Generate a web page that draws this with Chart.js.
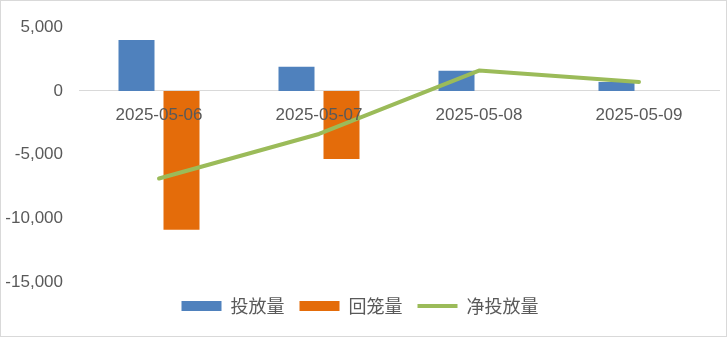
<!DOCTYPE html>
<html>
<head>
<meta charset="utf-8">
<script src="https://cdn.jsdelivr.net/npm/chart.js@4/dist/chart.umd.min.js"></script>
<style>
  html, body { margin: 0; padding: 0; background: #fff; }
  #wrap { width: 727px; height: 337px; box-sizing: border-box; border: 1px solid #d9d9d9; }
</style>
</head>
<body>
<div id="wrap"><canvas id="c" width="725" height="335"></canvas></div>
<script>
const dates = ["2025-05-06", "2025-05-07", "2025-05-08", "2025-05-09"];
const invest = [4000, 1900, 1575, 705];
const withdraw = [-10900, -5350, 0, 0];
const netInvest = [-6880, -3380, 1600, 705];
const yTicks = [-15000, -10000, -5000, 0, 5000];

const numFont = { family: "'Liberation Sans', Arial, sans-serif", size: 17 };

const ctx = document.getElementById("c").getContext("2d");
const chart = new Chart(ctx, {
  data: {
    labels: dates,
    datasets: [
      {
        type: "bar",
        label: "投放量",
        data: invest,
        backgroundColor: "#4f81bd",
        borderWidth: 0,
        pointStyle: "rect",
        order: 1,
      },
      {
        type: "bar",
        label: "回笼量",
        data: withdraw,
        backgroundColor: "#e46c0a",
        borderWidth: 0,
        pointStyle: "rect",
        order: 1,
      },
      {
        type: "line",
        label: "净投放量",
        data: netInvest,
        borderColor: "#9bbb59",
        backgroundColor: "#9bbb59",
        borderWidth: 4,
        borderCapStyle: "round",
        borderJoinStyle: "round",
        pointRadius: 0,
        pointStyle: "line",
        tension: 0,
        order: 0,
      },
    ],
  },
  options: {
    responsive: false,
    animation: false,
    categoryPercentage: 0.5625,
    barPercentage: 0.8,
    layout: { padding: { top: 24, right: 7, bottom: 11, left: 0 } },
    plugins: {
      tooltip: { enabled: false },
      legend: {
        position: "bottom",
        labels: {
          usePointStyle: true,
          pointStyleWidth: 40,
          boxHeight: 10,
          padding: 15,
          color: "#595959",
          font: { family: "'Noto Sans CJK SC', sans-serif", size: 18 },
          sort: (a, b) => a.datasetIndex - b.datasetIndex,
        },
      },
    },
    scales: {
      x: {
        position: { y: 0 },
        grid: { display: false, drawTicks: false },
        border: { display: true, color: "#d9d9d9", width: 1 },
        ticks: { color: "#595959", font: numFont, padding: 14, maxRotation: 0, z: 1 },
      },
      y: {
        min: yTicks[0],
        max: yTicks[yTicks.length - 1],
        grid: { display: false, drawTicks: false },
        border: { display: false },
        afterBuildTicks: (axis) => {
          axis.ticks = yTicks.map((v) => ({ value: v }));
        },
        afterFit: (axis) => {
          axis.width = 78;
        },
        ticks: {
          color: "#595959",
          font: numFont,
          padding: 16,
          callback: (v) => v.toLocaleString("en-US"),
        },
      },
    },
  },
});
</script>
</body>
</html>
